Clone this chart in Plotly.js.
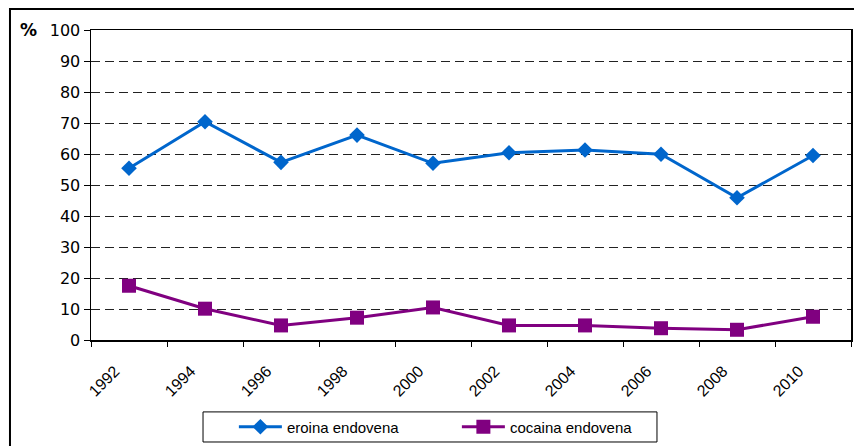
<!DOCTYPE html>
<html>
<head>
<meta charset="utf-8">
<script src="https://cdn.plot.ly/plotly-3.0.1.min.js"></script>
<style>
  html, body { margin: 0; padding: 0; background: #ffffff; }
  #chart { width: 854px; height: 446px; }
</style>
</head>
<body>
<div id="chart"></div>
<script>
// Survey years (one value every two years)
const years = [1993, 1995, 1997, 1999, 2001, 2003, 2005, 2007, 2009, 2011];
// Share of injecting users, %
const eroinaEndovena = [55.4, 70.4, 57.3, 66.1, 57.0, 60.4, 61.3, 59.9, 45.9, 59.5];
const cocainaEndovena = [17.5, 10.1, 4.7, 7.2, 10.5, 4.7, 4.7, 3.8, 3.3, 7.5];
// Category axis ticks and labels
const tickYears = [1992, 1994, 1996, 1998, 2000, 2002, 2004, 2006, 2008, 2010, 2012];
const tickLabels = ['1992', '1994', '1996', '1998', '2000', '2002', '2004', '2006', '2008', '2010', ''];

const sans = '"Liberation Sans", Arial, sans-serif';

const traces = [
  {
    x: years, y: eroinaEndovena, name: 'eroina endovena',
    type: 'scatter', mode: 'lines+markers',
    line: { color: '#0066CC', width: 3 },
    marker: { symbol: 'diamond', size: 12, color: '#0066CC' }
  },
  {
    x: years, y: cocainaEndovena, name: 'cocaina endovena',
    type: 'scatter', mode: 'lines+markers',
    line: { color: '#800080', width: 3 },
    marker: { symbol: 'square', size: 14, color: '#800080' }
  }
];

const layout = {
  width: 854, height: 446,
  margin: { l: 91, r: 3, t: 30, b: 106, autoexpand: false },
  paper_bgcolor: '#ffffff', plot_bgcolor: '#ffffff',
  font: { family: '"DejaVu Sans", sans-serif', color: '#000000' },
  showlegend: true,
  legend: {
    orientation: 'h', x: 0.188, y: -0.2806, xanchor: 'left', yanchor: 'middle',
    borderwidth: 0, bgcolor: 'rgba(0,0,0,0)',
    font: { family: sans, size: 15, color: '#000000' },
    itemwidth: 43, entrywidth: 165, entrywidthmode: 'pixels', tracegroupgap: 0
  },
  xaxis: {
    range: [1992, 2012], tickmode: 'array', tickvals: tickYears, ticktext: tickLabels,
    tickangle: -45, ticks: 'outside', ticklen: 5, tickcolor: '#000000', tickwidth: 1,
    ticklabelshift: 24, ticklabelstandoff: 9,
    showgrid: false, zeroline: false, automargin: false,
    showline: true, linecolor: '#000000', linewidth: 1.5, mirror: true,
    tickfont: { family: sans, size: 16, color: '#000000' },
    fixedrange: true
  },
  yaxis: {
    range: [0, 100], tick0: 0, dtick: 10, automargin: false,
    ticks: 'outside', ticklen: 6, tickcolor: '#000000', tickwidth: 1,
    showgrid: true, gridcolor: '#222222', gridwidth: 1, griddash: '9px,5px',
    zeroline: false,
    showline: true, linecolor: '#000000', linewidth: 1.5, mirror: true,
    tickfont: { family: '"DejaVu Sans", sans-serif', size: 16, color: '#000000' },
    fixedrange: true
  },
  annotations: [
    {
      text: '%', xref: 'paper', yref: 'paper', x: -0.096, y: 1.0, xanchor: 'left', yanchor: 'middle',
      showarrow: false, font: { family: '"DejaVu Sans", sans-serif', size: 17, color: '#000000', weight: 'bold' }
    }
  ],
  shapes: [
    {
      // outer chart frame
      type: 'rect', xref: 'paper', yref: 'paper',
      x0: -0.1066, x1: 1.03, y0: -0.40, y1: 1.0677,
      line: { color: '#000000', width: 2 }, fillcolor: 'rgba(0,0,0,0)', layer: 'below'
    },
    {
      // legend frame
      type: 'rect', xref: 'paper', yref: 'paper',
      x0: 0.1474, x1: 0.7447, y0: -0.329, y1: -0.232,
      line: { color: '#000000', width: 1 }, fillcolor: 'rgba(0,0,0,0)', layer: 'below'
    }
  ]
};

Plotly.newPlot('chart', traces, layout, { displayModeBar: false, staticPlot: true });
</script>
</body>
</html>
